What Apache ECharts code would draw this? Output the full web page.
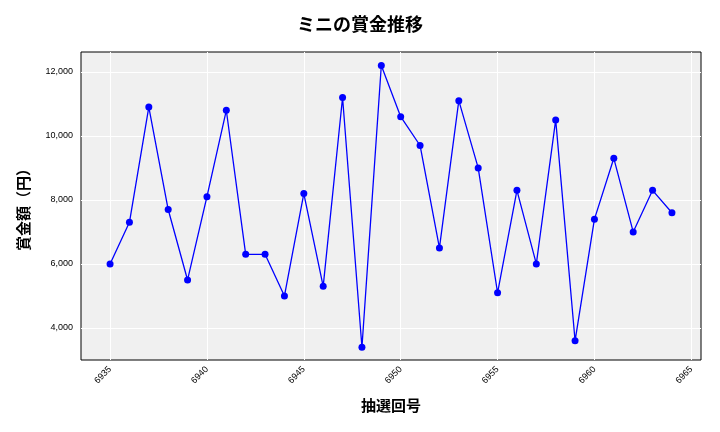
<!DOCTYPE html>
<html><head><meta charset="utf-8">
<script src="https://cdn.jsdelivr.net/npm/echarts@6/dist/echarts.min.js"></script>
<style>html,body{margin:0;padding:0;background:#fff}#c{width:720px;height:432px}</style>
</head><body><div id="c"></div>
<script>
const draws = [6935,6936,6937,6938,6939,6940,6941,6942,6943,6944,6945,6946,6947,6948,6949,6950,6951,6952,6953,6954,6955,6956,6957,6958,6959,6960,6961,6962,6963,6964];
const prizes = [6000,7300,10900,7700,5500,8100,10800,6300,6300,5000,8200,5300,11200,3400,12200,10600,9700,6500,11100,9000,5100,8300,6000,10500,3600,7400,9300,7000,8300,7600];
const xColors = ['transparent','transparent','transparent','#fff','transparent','transparent','transparent','transparent','transparent','transparent'];
const font = '"Noto Sans CJK JP", sans-serif';
const chart = echarts.init(document.getElementById('c'));
chart.setOption({
  animation:false,
  title:{text:'ミニの賞金推移',left:'center',top:10,textStyle:{fontFamily:font,fontSize:18,fontWeight:'bold',color:'#000'}},
  grid:{left:81,right:19,top:52,bottom:72,show:true,backgroundColor:'#f0f0f0',borderWidth:1,borderColor:'#000'},
  xAxis:{type:'value',min:6933.5,max:6965.5,interval:0.5,
    name:'抽選回号',nameLocation:'middle',nameGap:38,nameTextStyle:{fontFamily:font,fontSize:15,fontWeight:'bold',color:'#000'},
    axisLine:{show:false},axisTick:{show:false},
    axisLabel:{rotate:45,fontSize:9,color:'#000',showMinLabel:true,showMaxLabel:true,
      formatter:v=>{const r=Math.round(v*2)/2;return (Number.isInteger(r)&&r%5===0)?String(r):'';}},
    splitLine:{show:true,lineStyle:{color:xColors,width:1}}},
  yAxis:{type:'value',min:3000,max:12620,interval:1000,
    name:'賞金額（円）',nameLocation:'middle',nameGap:50,nameTextStyle:{fontFamily:font,fontSize:15,fontWeight:'bold',color:'#000'},
    axisLine:{show:false},axisTick:{show:false},
    axisLabel:{fontSize:9,color:'#000',showMaxLabel:false,
      formatter:v=>(Math.round(v)%2000===0?Math.round(v).toLocaleString('en-US'):'')},
    splitLine:{show:true,lineStyle:{color:['transparent','#fff'],width:1}}},
  series:[{type:'line',data:draws.map((d,i)=>[d,prizes[i]]),symbol:'circle',symbolSize:7,
    lineStyle:{color:'#0000ff',width:1.3},itemStyle:{color:'#0000ff'}}]
});
</script></body></html>
